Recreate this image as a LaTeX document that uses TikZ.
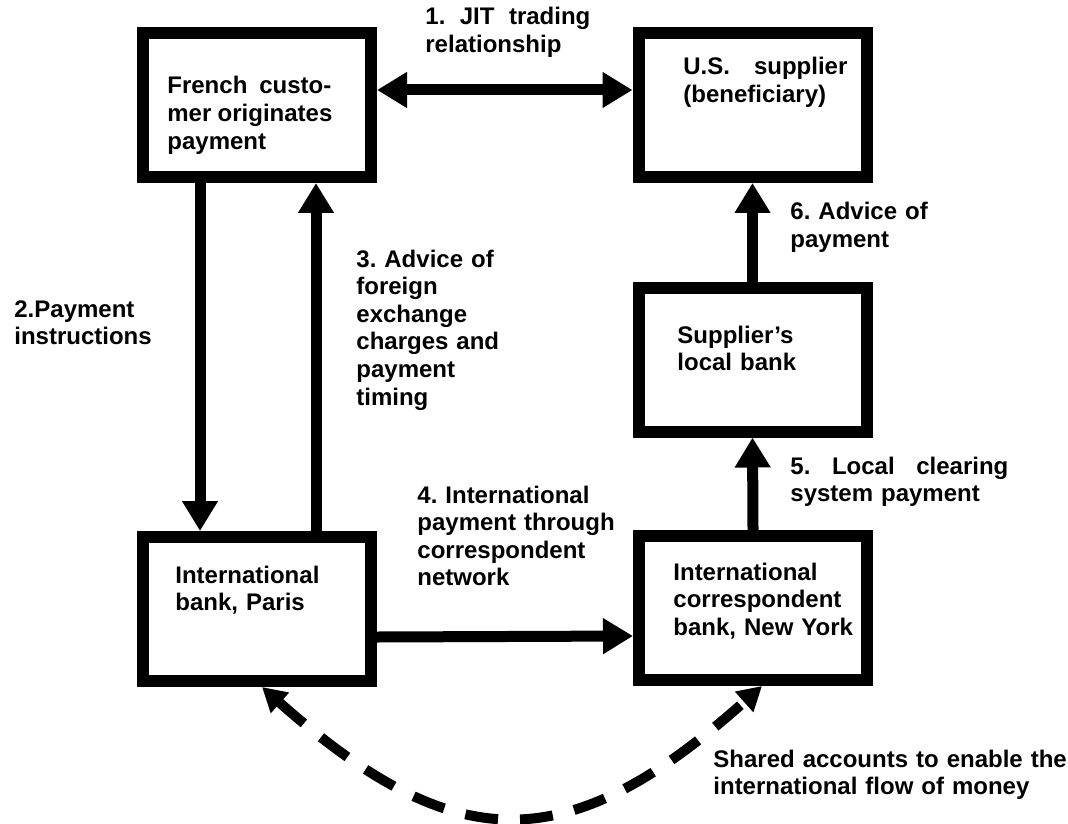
\documentclass[tikz,border=0pt]{standalone}
\usepackage{fontspec}
\setmainfont{Liberation Sans}
\usetikzlibrary{                          % TikZ libraries
                positioning,              % .
                calc,                     % .
                arrows.meta}

\begin{document}
\begin{tikzpicture}[x=0.5pt,y=-0.5pt
                    ]
                % define styles
\tikzset{box/.style={rectangle,
                       draw=black,
                       line width=6pt,
                       minimum width=114pt,
                       minimum height=72pt,
                       inner sep=0,
                       },
         flow/.style={line width=5.5pt,
                       -{Triangle[length=15pt,width=17pt]},
                       },
         sharedflow/.style={line width=5pt,
                       dash pattern=on 16.5pt off 11pt,
                       {Triangle[length=12pt,width=13pt]}-{Triangle[length=12pt,width=13pt]},
                       },
         note/.style={anchor=base west,
                       inner sep=0,
                       text width=180pt,
                       align=left,
                       font=\fontsize{12pt}{13.8pt}\selectfont\bfseries\frenchspacing,
                       }
}

\useasboundingbox (0,0) rectangle (1068,823);

% boxes
\node[box]   (french)    at  (257,105)    {};
\node[box]   (supplier)  at  (752.5,105)  {};
\node[box]   (localbank) at  (752.5,359.5) {};
\node[box]   (paris)     at  (257,609)    {};
\node[box]   (nybank)    at  (753,608)    {};

% box texts
\node[note] (french-txt)    at (167,94)  {\makebox[82pt][l]{French\hfill custo-}\\\makebox[82.5pt][l]{mer\hfill originates}\\payment};
\node[note] (supplier-txt)  at (683,75)  {\makebox[82pt][l]{U.S.\hfill supplier}\\(beneficiary)};
\node[note] (localbank-txt) at (677,343) {Supplier’s\\local bank};
\node[note] (paris-txt)     at (175,583) {International\\bank, Paris};
\node[note] (nybank-txt)    at (673,580) {International\\correspondent\\bank, New York};

% connectors
\draw [flow,{Triangle[length=15pt,width=17pt]}-{Triangle[length=15pt,width=17pt]}]
      ([yshift=7.5pt]french.east) -- ([yshift=7.5pt]supplier.west);
\draw [flow] ([xshift=-28.5pt]french.south) -- ([xshift=-28.5pt]paris.north);
\draw [flow] ([xshift=29.5pt]paris.north) -- ([xshift=29.5pt]french.south);
\draw [flow] ([yshift=-14pt]paris.east) -- ([yshift=-14pt]nybank.west);
\draw [flow] (nybank.north) -- (localbank.south);
\draw [flow] (localbank.north) -- (supplier.south);
\draw [sharedflow] ([xshift=2.5pt]paris.south) .. controls (456,859) and (568,859) .. ([xshift=4.5pt]nybank.south);

% labels
\node[note] (jit)      at (425,25)  {\makebox[82.5pt][l]{1.\hfill JIT\hfill trading}\\relationship};
\node[note] (instr)    at (14,317)  {2.Payment\\instructions};
\node[note] (fxadvice) at (356,267) {3. Advice of\\foreign\\exchange\\charges and\\payment\\timing};
\node[note] (intpay)   at (417,503) {4. International\\payment through\\correspondent\\network};
\node[note] (clearing) at (790,474) {\makebox[109pt][l]{5.\hfill Local\hfill clearing}\\system payment};
\node[note] (advice)   at (790,220) {6. Advice of\\payment};
\node[note] (accounts) at (713,767) {Shared accounts to enable the\\international flow of money};

\end{tikzpicture}
\end{document}
